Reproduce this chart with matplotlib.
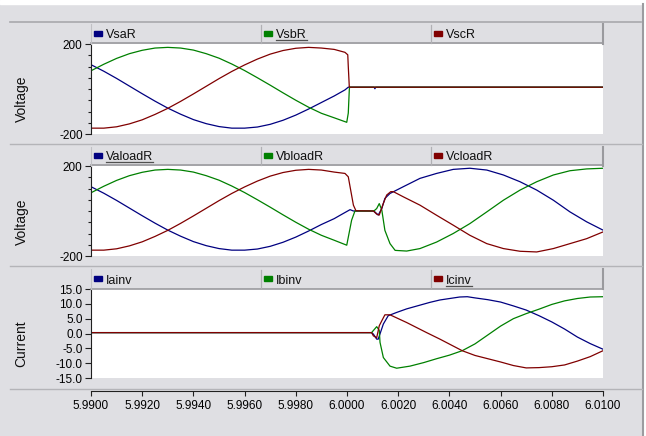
import matplotlib.pyplot as plt
from matplotlib.patches import Rectangle
from matplotlib.lines import Line2D
from matplotlib.ticker import MultipleLocator, FixedLocator, FormatStrFormatter

plt.rcParams['font.family'] = ['Liberation Sans', 'DejaVu Sans']
plt.rcParams['axes.unicode_minus'] = False

# ---- valori ----
# tratto comune prima del guasto (tensioni)
t_pre = [5.9900, 5.9905, 5.9910, 5.9915, 5.9920, 5.9925, 5.9930, 5.9935, 5.9940, 5.9945,
         5.9950, 5.9955, 5.9960, 5.9965, 5.9970, 5.9975, 5.9980, 5.9985, 5.9990]
va_pre = [108, 79, 47, 13, -21, -54, -85, -112, -136, -154, -167, -174, -174, -169, -157, -139, -116, -89, -60]
vb_pre = [81, 110, 136, 157, 172, 182, 185, 182, 173, 157, 137, 111, 82, 50, 17, -17, -50, -81, -108]
vc_pre = [-174, -174, -168, -155, -137, -113, -86, -55, -22, 12, 46, 78, 107, 133, 155, 171, 181, 185, 182]

# pannello 1: VsaR, VsbR, VscR
t_vsa = t_pre + [5.9995, 5.99992, 6.00005, 6.00106, 6.00109, 6.00112, 6.0100]
vsa = va_pre + [-31, -4, 8, 8, 1, 8, 8]
t_vsb = t_pre + [5.9995, 5.99999, 6.00005, 6.00009, 6.00010, 6.0100]
vsb = vb_pre + [-128, -148, -107, -3, 8, 8]
t_vsc = t_pre + [5.9995, 5.99992, 6.00003, 6.00005, 6.00009, 6.00010, 6.0100]
vsc = vc_pre + [176, 163, 152, 100, 9, 8, 8]

# pannello 2: ValoadR, VbloadR, VcloadR
t_vla = t_pre + [5.9995, 5.99973, 6.00012, 6.00025, 6.00105, 6.00122, 6.00136, 6.00148, 6.00168, 6.0022,
                 6.00285, 6.0035, 6.00415, 6.0048, 6.00546, 6.00611, 6.00676, 6.00741, 6.00806, 6.00871,
                 6.00936, 6.0100]
vla = va_pre + [-34, -19, 6, 0, 0, -18, 11, 56, 78, 108, 145, 167, 185, 190, 182, 160, 130, 93, 48, -4, -48, -85]
t_vlb = t_pre + [5.9995, 5.99999, 6.00018, 6.00031, 6.00105, 6.00116, 6.00126, 6.00136, 6.00148, 6.00168,
                 6.00188, 6.00233, 6.00285, 6.0035, 6.00415, 6.0048, 6.00546, 6.00611, 6.00676, 6.00741,
                 6.00806, 6.00871, 6.00936, 6.0100]
vlb = vb_pre + [-130, -152, -41, 0, 0, 11, 33, 4, -86, -145, -175, -178, -167, -138, -100, -56, -4, 48, 93,
                130, 160, 179, 187, 190]
t_vlc = t_pre + [5.9995, 5.99992, 6.00005, 6.00025, 6.00035, 6.00103, 6.00116, 6.00126, 6.00142, 6.00155,
                 6.00171, 6.00181, 6.0022, 6.00285, 6.0035, 6.00415, 6.0048, 6.00546, 6.00611, 6.00676,
                 6.00741, 6.00806, 6.00871, 6.00936, 6.0100]
vlc = vc_pre + [173, 167, 152, 26, 1, 0, -14, -18, 34, 71, 86, 86, 63, 26, -19, -63, -108, -145, -167, -179,
                -182, -167, -145, -123, -93]

# pannello 3: Iainv, Ibinv, Icinv
t_ia = [5.9900, 6.00096, 6.00103, 6.00116, 6.00122, 6.00142, 6.00161, 6.00194, 6.00233, 6.00324, 6.00363,
        6.0044, 6.0047, 6.0050, 6.0055, 6.0060, 6.0065, 6.0070, 6.0075, 6.0080, 6.0085, 6.0090, 6.0095, 6.0100]
ia = [0.3, 0.3, -0.2, -1.9, -1.9, 3.2, 6.0, 7.1, 8.3, 10.5, 11.3, 12.3, 12.4, 12.0, 11.4, 10.6, 9.3, 7.9,
      6.0, 3.9, 1.5, -1.2, -3.4, -5.3]
t_ib = [5.9900, 6.00096, 6.00116, 6.00126, 6.00129, 6.00142, 6.00168, 6.00194, 6.00246, 6.0030, 6.0035,
        6.0040, 6.0045, 6.0050, 6.0055, 6.0060, 6.0065, 6.0070, 6.0075, 6.0080, 6.0085, 6.0090, 6.0095, 6.0100]
ib = [0.3, 0.3, 2.3, 1.1, -3.0, -8.1, -11.0, -11.7, -11.0, -9.8, -8.5, -7.3, -5.8, -3.5, -0.5, 2.5, 5.0,
      6.7, 8.2, 9.8, 11.0, 11.8, 12.3, 12.4]
t_ic = [5.9900, 6.00096, 6.00103, 6.00116, 6.00126, 6.00136, 6.00148, 6.00168, 6.00233, 6.00311, 6.00363,
        6.0045, 6.0050, 6.0055, 6.0060, 6.0065, 6.0070, 6.0075, 6.0080, 6.0085, 6.0090, 6.0095, 6.0100]
ic = [0.3, 0.3, -0.8, -1.4, 2.6, 4.3, 6.3, 6.3, 3.7, 0.3, -1.9, -5.8, -7.4, -8.5, -9.6, -10.8, -11.6,
      -11.5, -11.2, -10.6, -9.3, -7.8, -5.8]

xticks = [5.9900, 5.9920, 5.9940, 5.9960, 5.9980, 6.0000, 6.0020, 6.0040, 6.0060, 6.0080, 6.0100]
nomi = [["VsaR", "VsbR", "VscR"], ["ValoadR", "VbloadR", "VcloadR"], ["Iainv", "Ibinv", "Icinv"]]
sottolineati = ["VsbR", "ValoadR", "Icinv"]
ylabels = ["Voltage", "Voltage", "Current"]
colori = ["#000080", "#008000", "#800000"]

# ---- layout in pixel ----
W, H = 646, 436
BG = "#dfdfe3"
fig = plt.figure(figsize=(W / 100, H / 100), dpi=100, facecolor=BG)


def fx(x):
    return x / W


def fy(y):
    return 1 - y / H


def hline(y, x0, x1, color, lw=0.8):
    fig.add_artist(Line2D([fx(x0), fx(x1)], [fy(y), fy(y)], color=color, lw=lw, transform=fig.transFigure))


def vline(x, y0, y1, color, lw=0.8):
    fig.add_artist(Line2D([fx(x), fx(x)], [fy(y0), fy(y1)], color=color, lw=lw, transform=fig.transFigure))


# cornice esterna
fig.add_artist(Rectangle((0, fy(4)), 1, 4 / H, transform=fig.transFigure, color="white", zorder=0))
fig.add_artist(Rectangle((fx(643), 0), 3 / W, 1, transform=fig.transFigure, color="white", zorder=0))
vline(642.5, 4, 436, "#9c9ca0", lw=1.5)
hline(22, 10, 641, "#a8a8ac", lw=1.2)
hline(144, 10, 642, "#b4b4b8", lw=1.0)
hline(266, 10, 642, "#b4b4b8", lw=1.0)
hline(388.5, 10, 642, "#b4b4b8", lw=1.0)

# pannelli: (top, bottom) area bianca, inizio header
pannelli = [(44, 134, 24), (166, 256, 146.5), (289, 378, 268.5)]
serie = [[(t_vsa, vsa), (t_vsb, vsb), (t_vsc, vsc)],
         [(t_vla, vla), (t_vlb, vlb), (t_vlc, vlc)],
         [(t_ia, ia), (t_ib, ib), (t_ic, ic)]]
ylab_y = [99, 221.7, 344]

testi_sott = []
for i, (top, bot, htop) in enumerate(pannelli):
    ax = fig.add_axes([fx(91), fy(bot), (603 - 91) / W, (bot - top) / H])
    ax.set_facecolor("white")
    for j, (t, v) in enumerate(serie[i]):
        ax.plot(t, v, color=colori[j], lw=0.9)
    ax.set_xlim(5.99, 6.01)
    for s in ["top", "right", "bottom"]:
        ax.spines[s].set_visible(False)
    ax.spines["left"].set_color("#202020")
    ax.spines["left"].set_linewidth(0.8)
    if i < 2:
        ax.set_ylim(-200, 200)
        ax.yaxis.set_major_locator(FixedLocator([-200, 200]))
        ax.yaxis.set_minor_locator(MultipleLocator(50))
        ax.set_yticklabels(["-200", "200"])
        ax.tick_params(axis="x", which="both", bottom=False, labelbottom=False)
    else:
        ax.set_ylim(-15, 15)
        ax.set_yticks([-15, -10, -5, 0, 5, 10, 15])
        ax.yaxis.set_major_formatter(FormatStrFormatter("%.1f"))
        ax.spines["bottom"].set_visible(True)
        ax.spines["bottom"].set_position(("outward", 9))
        ax.spines["bottom"].set_color("#202020")
        ax.spines["bottom"].set_linewidth(0.8)
        ax.set_xticks(xticks)
        ax.xaxis.set_major_formatter(FormatStrFormatter("%.4f"))
        ax.tick_params(axis="x", length=3.5, width=0.8, pad=3, labelsize=8.5, color="#202020")
    ax.tick_params(axis="y", which="major", length=4, width=0.8, pad=2, labelsize=8.5, color="#202020")
    ax.tick_params(axis="y", which="minor", length=2.5, width=0.8, color="#202020")

    # header con legenda
    hline(top - 0.5, 91, 603, "#9a9a9e", lw=1.2)
    vline(602.5, htop, top, "#9a9a9e", lw=1.5)
    vline(90.5, htop, top, "#c0c0c4", lw=0.8)
    for xs in (261, 431):
        vline(xs, htop + 1, top - 1, "#b0b0b4", lw=0.9)
    base = top - 5.5
    for j, xc in enumerate((91, 261, 431)):
        fig.add_artist(Rectangle((fx(xc + 3.3), fy(base - 2.5)), 7.3 / W, 5.3 / H,
                                 transform=fig.transFigure, color=colori[j], zorder=3))
        txt = fig.text(fx(xc + 15), fy(base), nomi[i][j], fontsize=9, va="baseline", ha="left", color="#101010")
        if nomi[i][j] in sottolineati:
            testi_sott.append(txt)

    fig.text(fx(21.7), fy(ylab_y[i]), ylabels[i], rotation=90, ha="center", va="center",
             fontsize=10, color="#101010")

# sottolineature
fig.canvas.draw()
r = fig.canvas.get_renderer()
for txt in testi_sott:
    bb = txt.get_window_extent(r)
    yb = bb.y0 + 1
    fig.add_artist(Line2D([bb.x0 / W, bb.x1 / W], [yb / H, yb / H], color="#505050", lw=0.9,
                          transform=fig.transFigure))

fig.savefig("out.png", dpi=100, facecolor=fig.get_facecolor())
